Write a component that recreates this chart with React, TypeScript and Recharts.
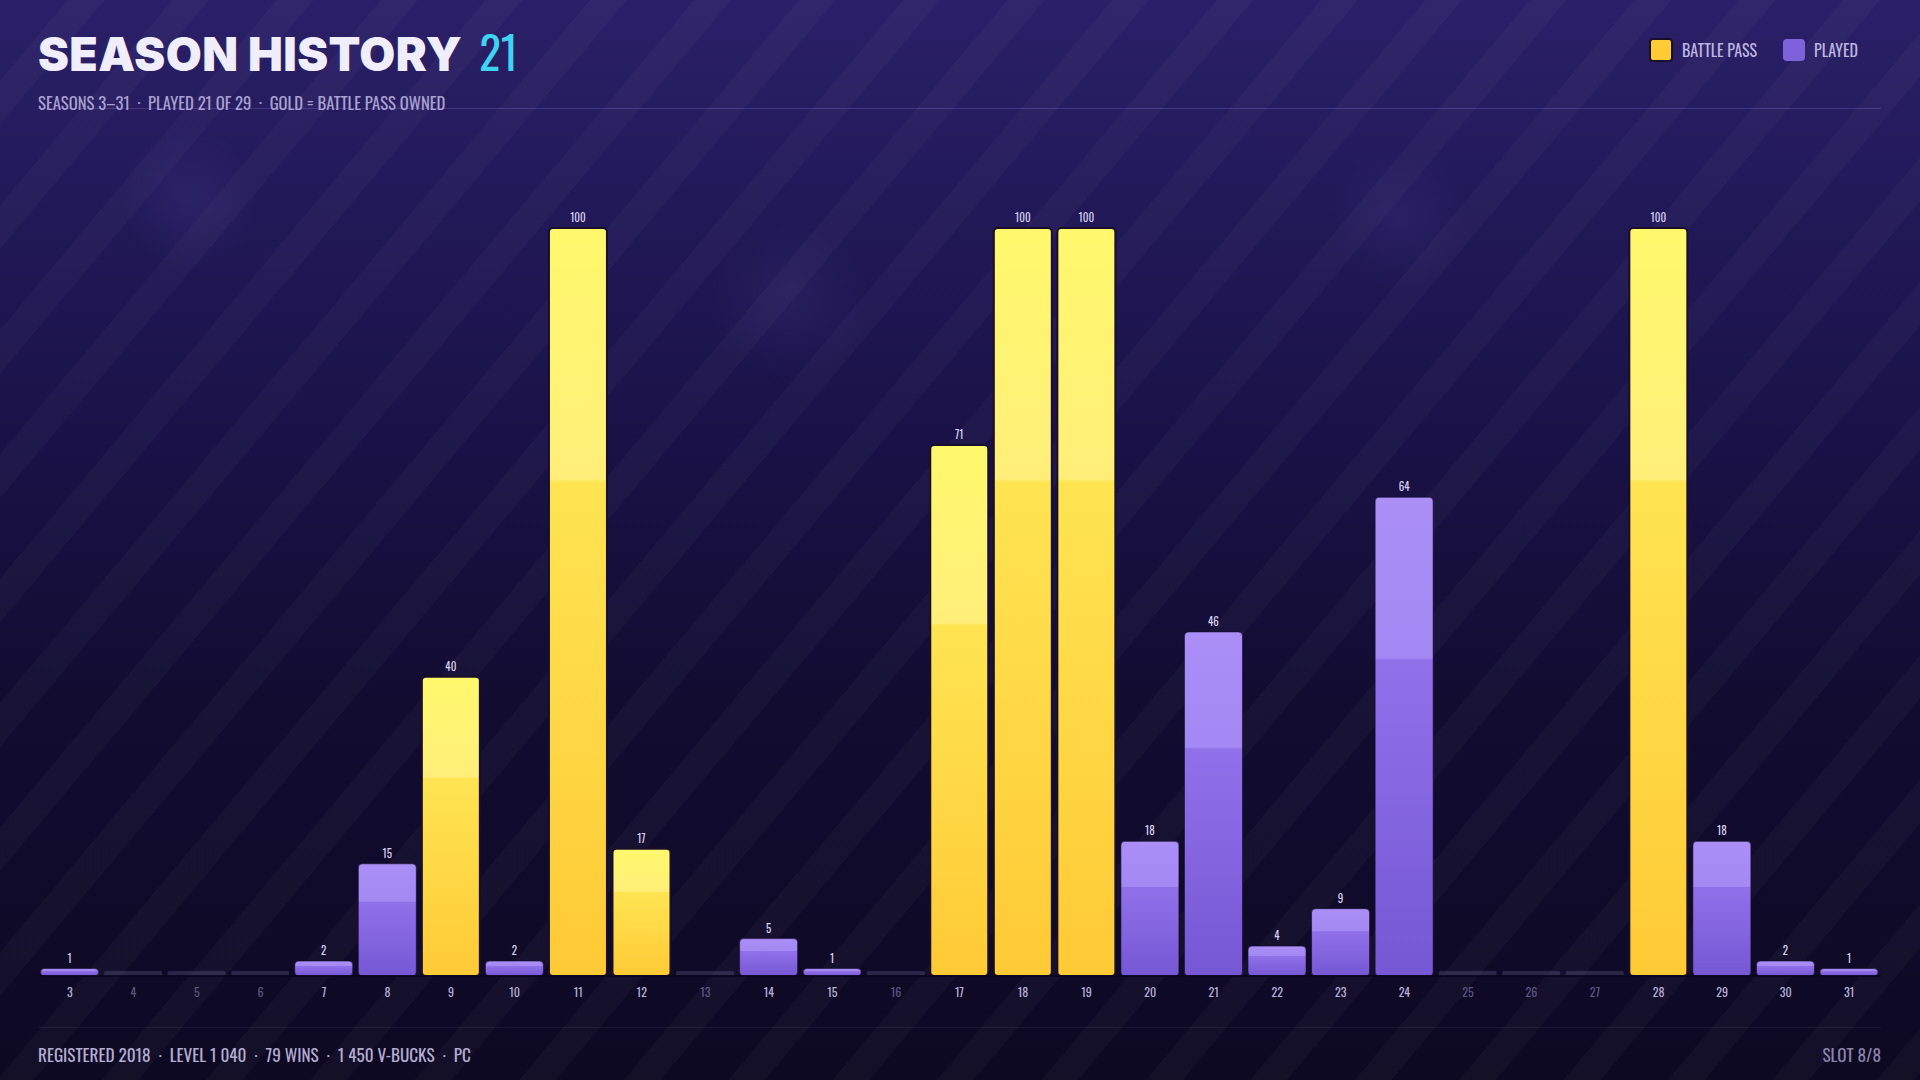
import { BarChart, Bar, XAxis, YAxis, LabelList } from 'recharts'

const seasons = [3, 4, 5, 6, 7, 8, 9, 10, 11, 12, 13, 14, 15, 16, 17, 18, 19, 20, 21, 22, 23, 24, 25, 26, 27, 28, 29, 30, 31]
const levels = [1, 0, 0, 0, 2, 15, 40, 2, 100, 17, 0, 5, 1, 0, 71, 100, 100, 18, 46, 4, 9, 64, 0, 0, 0, 100, 18, 2, 1]
const battlePass = [0, 0, 0, 0, 0, 0, 1, 0, 1, 1, 0, 0, 0, 0, 1, 1, 1, 0, 0, 0, 0, 0, 0, 0, 0, 1, 0, 0, 0]
const footerItems = ['REGISTERED 2018', 'LEVEL 1 040', '79 WINS', '1 450 V-BUCKS', 'PC']

const data = seasons.map((s, i) => ({ season: String(s), level: levels[i], bp: battlePass[i] }))

const COND = '"Oswald", "Liberation Sans Narrow", "Roboto Condensed", "DejaVu Sans Condensed", "Arial Narrow", sans-serif'

function SeasonBar(props: any) {
  const { x, y, width, height, payload } = props
  if (!payload || payload.level === 0) {
    const base = y + height
    return <rect x={x} y={base - 5} width={width} height={5} rx={1.5} fill="rgba(120,110,160,0.28)" />
  }
  const gold = payload.bp === 1
  return (
    <rect
      x={x}
      y={y}
      width={width}
      height={height}
      rx={4}
      ry={4}
      fill={gold ? 'url(#goldFill)' : 'url(#violetFill)'}
      stroke={gold ? '#1a0f28' : 'rgba(20,12,45,0.6)'}
      strokeWidth={gold ? 2 : 1}
    />
  )
}

function SeasonTick(props: any) {
  const { x, y, payload, index } = props
  const empty = levels[index] === 0
  return (
    <text
      x={x}
      y={y + 13}
      textAnchor="middle"
      fontFamily={COND}
      fontSize={12}
      fill={empty ? '#5c5580' : '#b7b0d6'}
    >
      {payload.value}
    </text>
  )
}

export default function App() {
  return (
    <div
      style={{
        position: 'absolute',
        left: 0,
        top: 0,
        width: 1920,
        height: 1080,
        overflow: 'hidden',
        background:
          'repeating-linear-gradient(130deg, rgba(255,255,255,0) 0px, rgba(255,255,255,0) 52px, rgba(255,255,255,0.026) 52px, rgba(255,255,255,0.026) 80px),' +
          'radial-gradient(circle at 190px 200px, rgba(120,100,200,0.12) 0, rgba(120,100,200,0) 70px),' +
          'radial-gradient(circle at 790px 300px, rgba(120,100,200,0.10) 0, rgba(120,100,200,0) 80px),' +
          'radial-gradient(circle at 1400px 220px, rgba(120,100,200,0.10) 0, rgba(120,100,200,0) 70px),' +
          'linear-gradient(180deg, #2b2068 0%, #221959 18%, #1a1247 40%, #120c31 65%, #0d0922 100%)',
        fontFamily: COND,
      }}
    >
      <div style={{ position: 'absolute', left: 38, top: 17, display: 'flex', alignItems: 'baseline' }}>
        <span
          style={{
            fontFamily: '"Inter", "Lato", sans-serif',
            fontWeight: 900,
            fontSize: 46.5,
            color: '#f1eefc',
            letterSpacing: 0.4,
          }}
        >
          SEASON HISTORY
        </span>
        <span style={{ fontFamily: COND, fontSize: 45, color: '#3fd3f2', marginLeft: 17, fontWeight: 400 }}>21</span>
      </div>
      <div style={{ position: 'absolute', left: 38, top: 90, fontSize: 16.7, color: '#a9a1cf' }}>
        SEASONS 3–31 &nbsp;·&nbsp; PLAYED 21 OF 29 &nbsp;·&nbsp; GOLD = BATTLE PASS OWNED
      </div>
      <div style={{ position: 'absolute', left: 38, width: 1843, top: 108, height: 1, background: 'rgba(170,150,255,0.22)' }} />

      <div style={{ position: 'absolute', right: 62, top: 38, display: 'flex', alignItems: 'center', fontSize: 16, color: '#bdb5e0' }}>
        <span style={{ width: 20, height: 20, borderRadius: 4, background: '#ffcc35', border: '2px solid #1a0f28', marginRight: 9 }} />
        <span style={{ marginRight: 26 }}>BATTLE PASS</span>
        <span style={{ width: 22, height: 22, borderRadius: 4, background: '#7d62dc', marginRight: 9 }} />
        <span>PLAYED</span>
      </div>

      <div style={{ position: 'absolute', left: 0, top: 0 }}>
        <BarChart
          width={1920}
          height={1080}
          data={data}
          margin={{ top: 228, right: 39, left: 38, bottom: 74 }}
          barCategoryGap="4%"
        >
          <defs>
            <linearGradient id="goldFill" x1="0" y1="0" x2="0" y2="1">
              <stop offset="0%" stopColor="#fff86c" />
              <stop offset="33.5%" stopColor="#ffef7a" />
              <stop offset="34%" stopColor="#ffe452" />
              <stop offset="100%" stopColor="#ffca36" />
            </linearGradient>
            <linearGradient id="violetFill" x1="0" y1="0" x2="0" y2="1">
              <stop offset="0%" stopColor="#ab8ff7" />
              <stop offset="33.5%" stopColor="#a488f3" />
              <stop offset="34%" stopColor="#9171ea" />
              <stop offset="100%" stopColor="#7657d4" />
            </linearGradient>
          </defs>
          <YAxis hide domain={[0, 100]} />
          <XAxis
            dataKey="season"
            height={30}
            interval={0}
            tickLine={false}
            axisLine={{ stroke: 'rgba(10,6,30,0.9)', strokeWidth: 2 }}
            tick={<SeasonTick />}
          />
          <Bar dataKey="level" isAnimationActive={false} shape={<SeasonBar />}>
            <LabelList
              dataKey="level"
              position="top"
              offset={6}
              formatter={(v: number) => (v > 0 ? v : '')}
              style={{ fontFamily: COND, fontSize: 11, fill: '#d9d3f2' }}
            />
          </Bar>
        </BarChart>
      </div>

      <div style={{ position: 'absolute', left: 38, width: 1843, top: 1027, height: 1, background: 'rgba(255,255,255,0.06)' }} />
      <div style={{ position: 'absolute', left: 38, top: 1041, fontSize: 17.2, color: '#b3acd0' }}>
        {footerItems.join('  ·  ').split('  ').map((t, i) => (
          <span key={i} style={{ marginRight: 8 }}>{t}</span>
        ))}
      </div>
      <div style={{ position: 'absolute', right: 39, top: 1041, fontSize: 17.2, color: '#8a83a8' }}>SLOT 8/8</div>
    </div>
  )
}
